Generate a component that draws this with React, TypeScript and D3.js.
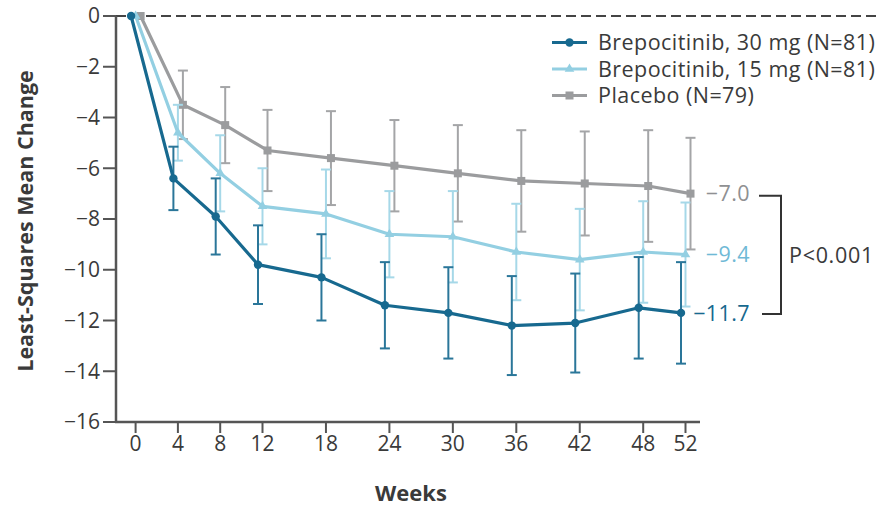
import React from 'react'
import * as d3 from 'd3'

const weeks = [0, 4, 8, 12, 18, 24, 30, 36, 42, 48, 52]
const mean30 = [0, -6.4, -7.9, -9.8, -10.3, -11.4, -11.7, -12.2, -12.1, -11.5, -11.7]
const err30 = [0, 1.25, 1.5, 1.55, 1.7, 1.7, 1.8, 1.95, 1.95, 2.0, 2.0]
const mean15 = [0, -4.6, -6.2, -7.5, -7.8, -8.6, -8.7, -9.3, -9.6, -9.3, -9.4]
const err15 = [0, 1.1, 1.5, 1.5, 1.75, 1.7, 1.8, 1.9, 2.0, 2.0, 2.05]
const meanPbo = [0, -3.5, -4.3, -5.3, -5.6, -5.9, -6.2, -6.5, -6.6, -6.7, -7.0]
const errPbo = [0, 1.35, 1.5, 1.6, 1.85, 1.8, 1.9, 2.0, 2.05, 2.2, 2.2]
const yTicks = [0, -2, -4, -6, -8, -10, -12, -14, -16]
const endLabels = ['\u22127.0', '\u22129.4', '\u221211.7']
const pLabel = 'P<0.001'

const series = [
  { key: 'pbo', name: 'Placebo (N=79)', mean: meanPbo, err: errPbo, color: '#9b9c9e', errColor: '#a4a5a7', shape: 'square', dx: 5 },
  { key: 'b15', name: 'Brepocitinib, 15 mg (N=81)', mean: mean15, err: err15, color: '#93cfe2', errColor: '#a6d8e8', shape: 'triangle', dx: 0 },
  { key: 'b30', name: 'Brepocitinib, 30 mg (N=81)', mean: mean30, err: err30, color: '#17698f', errColor: '#2a7699', shape: 'circle', dx: -4.5 },
]
const legendOrder = ['b30', 'b15', 'pbo']

const W = 896
const H = 508
const font = '"Open Sans", "Noto Sans", sans-serif'
const textColor = '#3a3a3a'

function Marker({ shape, x, y, color }: { shape: string; x: number; y: number; color: string }) {
  if (shape === 'circle') return <circle cx={x} cy={y} r={4.2} fill={color} />
  if (shape === 'square') return <rect x={x - 4} y={y - 4} width={8} height={8} fill={color} />
  const s = d3.symbol().type(d3.symbolTriangle).size(40)()
  return <path d={s || ''} transform={`translate(${x},${y})`} fill={color} />
}

export default function App() {
  const x = d3.scaleLinear().domain([0, 52]).range([135.6, 685.5])
  const y = d3.scaleLinear().domain([-16, 0]).range([422, 16])
  const axisX0 = 116
  const axisX1 = 700
  const axisY = y(-16)

  const line = d3.line<[number, number]>().x(d => d[0]).y(d => d[1])

  return (
    <div style={{ position: 'absolute', left: 0, top: 0 }}>
      <svg width={W} height={H} style={{ display: 'block', fontFamily: font }}>
        <rect width={W} height={H} fill="#fff" />

        {/* zero reference */}
        <line x1={axisX0} x2={880} y1={y(0)} y2={y(0)} stroke="#444" strokeWidth={2} strokeDasharray="10,5" />

        {/* y axis */}
        <line x1={axisX0} x2={axisX0} y1={y(0)} y2={axisY + 1} stroke="#555" strokeWidth={2.5} />
        {yTicks.map(t => (
          <g key={t}>
            <line x1={axisX0 - 13} x2={axisX0} y1={y(t)} y2={y(t)} stroke="#555" strokeWidth={2} />
            <text x={axisX0 - 16} y={y(t)} dy="0.35em" textAnchor="end" fontSize={21} fill={textColor}>
              {t === 0 ? '0' : '\u2212' + Math.abs(t)}
            </text>
          </g>
        ))}
        <text transform={`translate(33,${(y(0) + axisY) / 2 + 2}) rotate(-90)`} textAnchor="middle" fontSize={21.5} fontWeight="bold" fill={textColor}>
          Least-Squares Mean Change
        </text>

        {/* x axis */}
        <line x1={axisX0 - 1} x2={axisX1} y1={axisY} y2={axisY} stroke="#555" strokeWidth={2.5} />
        {weeks.map(w => (
          <g key={w}>
            <line x1={x(w)} x2={x(w)} y1={axisY} y2={axisY + 11} stroke="#555" strokeWidth={2} />
            <text x={x(w)} y={axisY + 29} textAnchor="middle" fontSize={21} fill={textColor}>{w}</text>
          </g>
        ))}
        <text x={411} y={501} textAnchor="middle" fontSize={22} fontWeight="bold" fill={textColor}>Weeks</text>

        {/* series */}
        {series.map(s => {
          const pts: [number, number][] = weeks.map((w, i) => [x(w) + s.dx, y(s.mean[i])])
          return (
            <g key={s.key}>
              {weeks.map((w, i) => {
                if (s.err[i] === 0) return null
                const cx = x(w) + s.dx
                const y1 = y(s.mean[i] + s.err[i])
                const y2 = y(s.mean[i] - s.err[i])
                return (
                  <g key={w} stroke={s.errColor} strokeWidth={2}>
                    <line x1={cx} x2={cx} y1={y1} y2={y2} />
                    <line x1={cx - 5} x2={cx + 5} y1={y1} y2={y1} />
                    <line x1={cx - 5} x2={cx + 5} y1={y2} y2={y2} />
                  </g>
                )
              })}
              <path d={line(pts) || ''} fill="none" stroke={s.color} strokeWidth={3.2} strokeLinejoin="round" />
              {pts.map((p, i) => <Marker key={i} shape={s.shape} x={p[0]} y={p[1]} color={s.color} />)}
            </g>
          )
        })}

        {/* end labels */}
        {['pbo', 'b15', 'b30'].map((k, i) => {
          const s = series.find(d => d.key === k)!
          const c = k === 'b15' ? '#6fb9d6' : k === 'pbo' ? '#8f9092' : s.color
          return (
            <text key={k} x={750} y={y(s.mean[s.mean.length - 1])} dy="0.36em" textAnchor="end" fontSize={21.5} letterSpacing={0.4} fill={c}>
              {endLabels[i]}
            </text>
          )
        })}
        <path
          d={`M759,${y(meanPbo[meanPbo.length - 1]) + 2}H781V${y(mean30[mean30.length - 1]) + 1}H762`}
          fill="none" stroke="#333" strokeWidth={2}
        />
        <text x={789} y={255} dy="0.36em" fontSize={21.5} letterSpacing={0.7} fill={textColor}>{pLabel}</text>

        {/* legend */}
        {legendOrder.map((k, i) => {
          const s = series.find(d => d.key === k)!
          const ly = 42.5 + i * 26.5
          return (
            <g key={k}>
              <line x1={552} x2={587} y1={ly} y2={ly} stroke={s.color} strokeWidth={3} />
              <Marker shape={s.shape} x={569.5} y={ly} color={s.color} />
              <text x={598} y={ly} dy="0.36em" fontSize={21.5} letterSpacing={0.45} fill={textColor}>{s.name}</text>
            </g>
          )
        })}
      </svg>
    </div>
  )
}
